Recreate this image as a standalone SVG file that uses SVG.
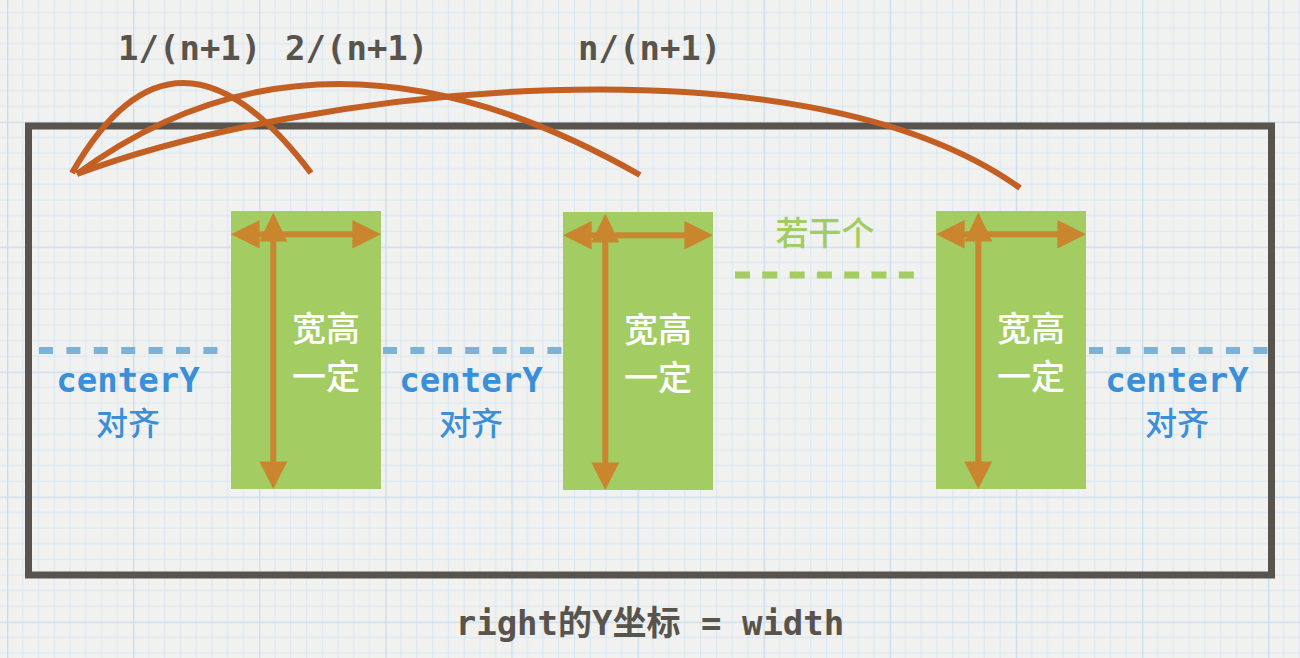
<svg xmlns="http://www.w3.org/2000/svg" xmlns:xlink="http://www.w3.org/1999/xlink" width="1300" height="658" viewBox="0 0 1300 658">
<style>
.mono{font-family:"DejaVu Sans Mono","Noto Sans CJK SC",monospace;font-weight:bold;}
.cjk{font-family:"Noto Sans CJK SC",sans-serif;font-weight:500;}
.dark{fill:#58544d;}
.blue{fill:#3b8fd8;}
.white{fill:#ffffff;}
.green{fill:#a1cc5f;}
.box{fill:#a3cd62;}
.dim{fill:#c9862f;}
.arc{fill:none;stroke:#c45f23;stroke-width:6;}
.bdash{stroke:#7ab2d8;stroke-width:7;stroke-dasharray:14 13.4;}
.gdash{stroke:#a3cd62;stroke-width:7;stroke-dasharray:15 12.3;}
.minor{stroke:#d8e7f2;stroke-width:1;}
.major{stroke:#c6ddee;stroke-width:1.6;}
</style>
<defs>
<pattern id="grid" patternUnits="userSpaceOnUse" x="7" y="-3.3" width="126.1" height="125">
<path class="minor" d="M15.76 0V125M31.52 0V125M47.29 0V125M63.05 0V125M78.81 0V125M94.57 0V125M110.34 0V125M0 15.625H126.1M0 31.25H126.1M0 46.875H126.1M0 62.5H126.1M0 78.125H126.1M0 93.75H126.1M0 109.375H126.1"/>
<path class="major" d="M0.5 0V125M0 0.5H126.1"/>
</pattern>
<g id="dims">
<rect class="dim" x="27" y="20.3" width="96" height="6"/>
<polygon class="dim" points="0,23.3 28.6,9.1 28.6,37.5"/>
<polygon class="dim" points="150,23.3 121.4,9.1 121.4,37.5"/>
<rect class="dim" x="39.3" y="28" width="6" height="224"/>
<polygon class="dim" points="42.3,1.5 28.3,30.5 56.3,30.5"/>
<polygon class="dim" points="42.3,278 28.3,250.5 56.3,250.5"/>
</g>
</defs>
<rect width="1300" height="658" fill="#f1f1f0"/>
<rect width="1300" height="658" fill="url(#grid)"/>

<g id="container">
<rect x="28.5" y="126" width="1243" height="449" fill="none" stroke="#58544d" stroke-width="7"/>
</g>

<g id="guides">
<line class="bdash" x1="39" y1="350.5" x2="218" y2="350.5"/>
<line class="bdash" x1="383" y1="350.5" x2="562" y2="350.5"/>
<line class="bdash" x1="1089" y1="350.5" x2="1268" y2="350.5"/>
<line class="gdash" x1="735" y1="275" x2="914" y2="275"/>
</g>

<g id="box1">
<rect class="box" x="231" y="211" width="150" height="278"/>
<use xlink:href="#dims" href="#dims" transform="translate(231,211)"/>
<text class="cjk white" x="326" y="341" font-size="34" text-anchor="middle">宽高</text>
<text class="cjk white" x="326" y="389" font-size="34" text-anchor="middle">一定</text>
</g>

<g id="box2">
<rect class="box" x="563" y="212" width="150" height="278"/>
<use xlink:href="#dims" href="#dims" transform="translate(563,212)"/>
<text class="cjk white" x="658" y="342" font-size="34" text-anchor="middle">宽高</text>
<text class="cjk white" x="658" y="390" font-size="34" text-anchor="middle">一定</text>
</g>

<g id="box3">
<rect class="box" x="936" y="211" width="150" height="278"/>
<use xlink:href="#dims" href="#dims" transform="translate(936,211)"/>
<text class="cjk white" x="1031" y="341" font-size="34" text-anchor="middle">宽高</text>
<text class="cjk white" x="1031" y="389" font-size="34" text-anchor="middle">一定</text>
</g>

<g id="labels">
<text class="mono blue" x="128" y="392" font-size="34" text-anchor="middle">centerY</text>
<text class="cjk blue" x="128" y="435" font-size="32" text-anchor="middle">对齐</text>
<text class="mono blue" x="471" y="392" font-size="34" text-anchor="middle">centerY</text>
<text class="cjk blue" x="471" y="435" font-size="32" text-anchor="middle">对齐</text>
<text class="mono blue" x="1177" y="392" font-size="34" text-anchor="middle">centerY</text>
<text class="cjk blue" x="1177" y="435" font-size="32" text-anchor="middle">对齐</text>
<text class="cjk green" x="825" y="245" font-size="33" text-anchor="middle">若干个</text>
<text class="mono dark" x="118" y="60" font-size="34">1/(n+1)</text>
<text class="mono dark" x="285" y="60" font-size="34">2/(n+1)</text>
<text class="mono dark" x="578" y="60" font-size="34">n/(n+1)</text>
<text class="mono dark" x="650" y="635" font-size="34" text-anchor="middle">right的Y坐标 = width</text>
</g>

<g id="connectors">
<path class="arc" d="M72,173 Q175,-7 311,173"/>
<path class="arc" d="M77,174 Q321.5,-6.5 640,175"/>
<path class="arc" d="M77,174 C300,90 800,30 1020,188"/>
</g>
</svg>
